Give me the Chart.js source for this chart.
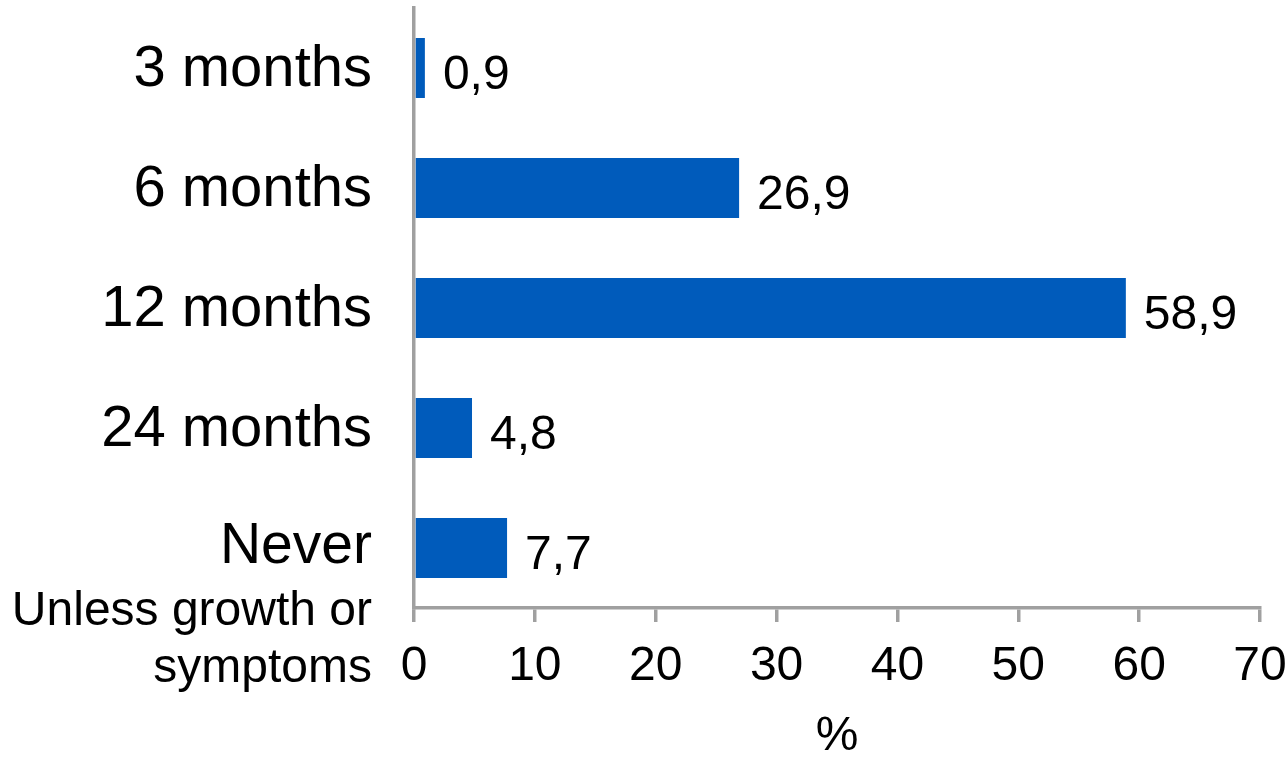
<!DOCTYPE html>
<html>
<head>
<meta charset="utf-8">
<script src="https://cdn.jsdelivr.net/npm/chart.js@4/dist/chart.umd.min.js"></script>
<style>
  body { margin: 0; background: #fff; }
  #wrap { width: 1287px; height: 762px; }
</style>
</head>
<body>
<div id="wrap"><canvas id="myChart" width="1287" height="762"></canvas></div>
<script>
// follow-up interval answers
var categories = ["3 months", "6 months", "12 months", "24 months", "Never"];
var percents = [0.9, 26.9, 58.9, 4.8, 7.7];
var neverNote = ["Unless growth or", "symptoms"];
var xTicks = [0, 10, 20, 30, 40, 50, 60, 70];

var axisGrey = "#A0A0A0";
var barBlue = "#005BBB";
var fontName = "'Liberation Sans', Arial, sans-serif";

// values printed to the right of each bar, decimal comma
const valueLabels = {
    id: "valueLabels",
    afterDatasetsDraw(chart) {
        const ctx = chart.ctx;
        const meta = chart.getDatasetMeta(0);
        ctx.save();
        ctx.font = "48px " + fontName;
        ctx.fillStyle = "#000";
        ctx.textAlign = "left";
        ctx.textBaseline = "alphabetic";
        meta.data.forEach((bar, i) => {
            let txt = percents[i].toFixed(1).replace(".", ",");
            ctx.fillText(txt, bar.x + 18, bar.y + 21);
        });
        ctx.restore();
    }
};

// the "Never" label gets a smaller two line note under it
const neverLabel = {
    id: "neverLabel",
    afterDraw(chart) {
        const ctx = chart.ctx;
        const yScale = chart.scales.y;
        const idx = categories.indexOf("Never");
        const y = yScale.getPixelForValue(idx);
        const x = yScale.right - 42;
        ctx.save();
        ctx.fillStyle = "#000";
        ctx.textAlign = "right";
        ctx.textBaseline = "alphabetic";
        ctx.font = "57px " + fontName;
        ctx.fillText("Never", x, y + 15);
        ctx.font = "48px " + fontName;
        ctx.fillText(neverNote[0], x, y + 77);
        ctx.fillText(neverNote[1], x, y + 134);
        ctx.restore();
    }
};

new Chart("myChart", {
    type: "bar",
    data: {
        labels: categories,
        datasets: [{
            data: percents,
            backgroundColor: barBlue,
            borderWidth: 0,
            barPercentage: 0.5,
            categoryPercentage: 1.0
        }]
    },
    options: {
        indexAxis: "y",
        responsive: false,
        animation: false,
        layout: { padding: { left: 0, right: 27, top: 8, bottom: 0 } },
        plugins: {
            legend: { display: false },
            tooltip: { enabled: false }
        },
        scales: {
            x: {
                min: xTicks[0],
                max: xTicks[xTicks.length - 1],
                afterBuildTicks: (scale) => {
                    scale.ticks = xTicks.map(v => ({ value: v }));
                },
                afterFit: (scale) => {
                    scale.height = 154;
                    scale.paddingLeft = 0;
                    scale.paddingRight = 0;
                },
                grid: {
                    drawOnChartArea: false,
                    drawTicks: true,
                    tickLength: 14,
                    color: axisGrey,
                    lineWidth: 3.5
                },
                border: { display: true, color: axisGrey, width: 3.5 },
                ticks: {
                    color: "#000",
                    padding: 16,
                    maxRotation: 0,
                    font: { family: fontName, size: 48 }
                },
                title: {
                    display: true,
                    text: "%",
                    color: "#000",
                    padding: { top: 0, bottom: -4 },
                    font: { family: fontName, size: 48 }
                }
            },
            y: {
                afterFit: (scale) => {
                    scale.width = 414;
                    scale.paddingTop = 0;
                    scale.paddingBottom = 0;
                },
                grid: {
                    drawOnChartArea: false,
                    drawTicks: false,
                    color: axisGrey,
                    lineWidth: 3.5
                },
                border: { display: true, color: axisGrey, width: 3.5 },
                ticks: {
                    color: "#000",
                    padding: 42,
                    labelOffset: 2,
                    font: { family: fontName, size: 58 },
                    callback: function (val, i) {
                        return categories[i] === "Never" ? "" : categories[i];
                    }
                }
            }
        }
    },
    plugins: [valueLabels, neverLabel]
});
</script>
</body>
</html>
